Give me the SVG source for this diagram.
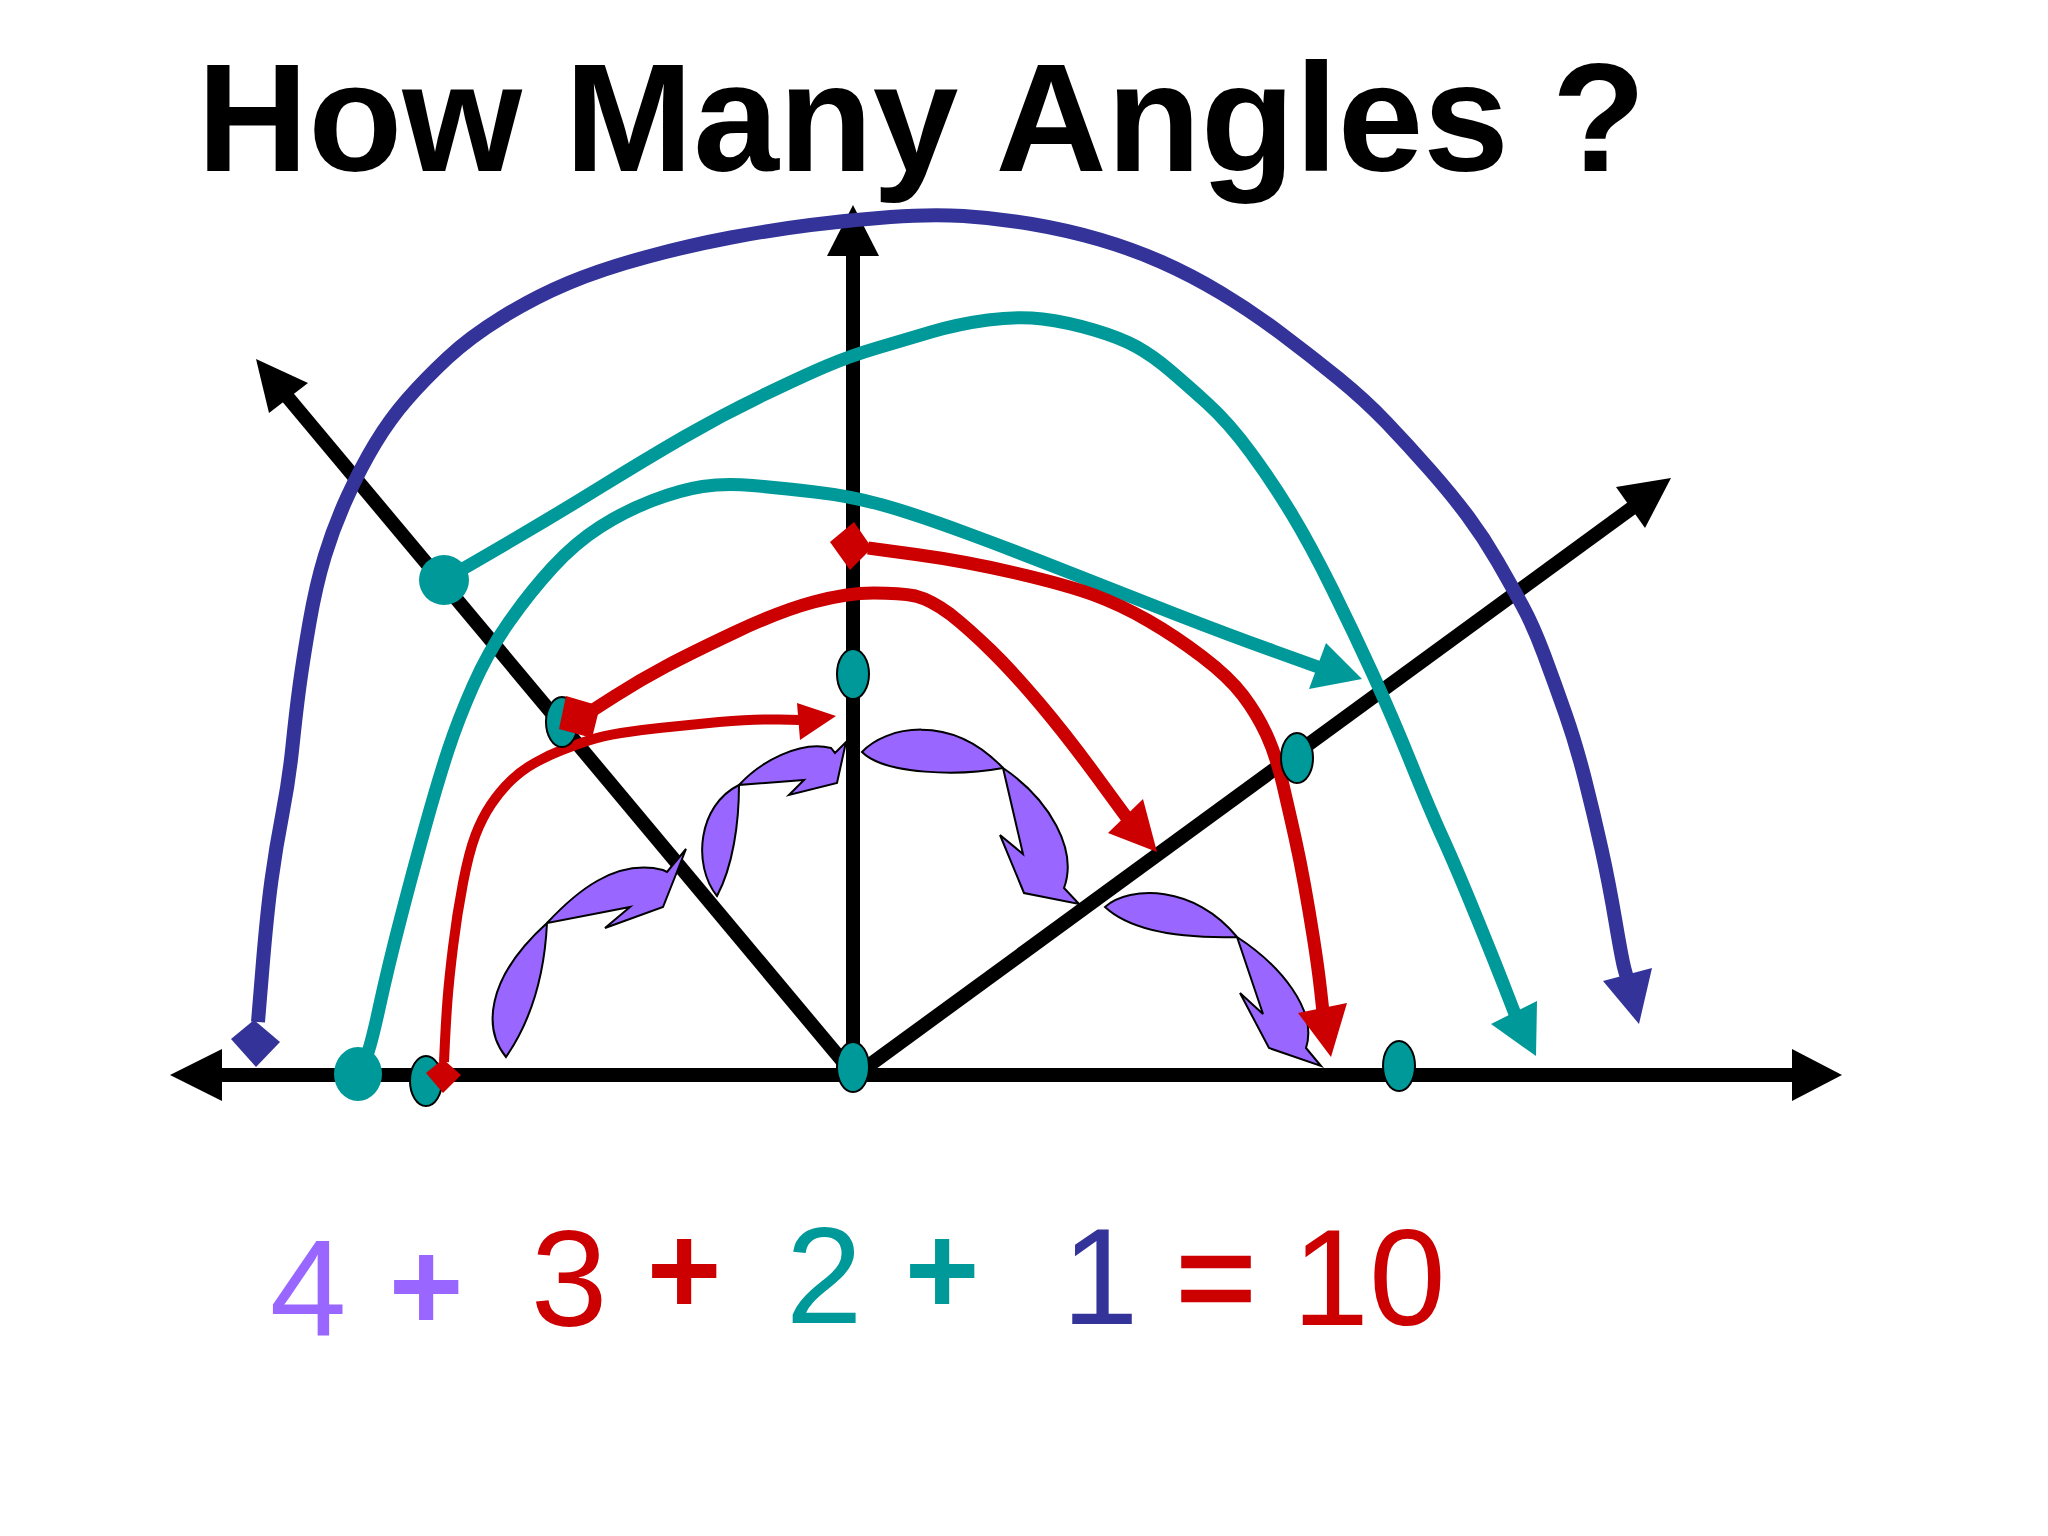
<svg xmlns="http://www.w3.org/2000/svg" width="2048" height="1536" viewBox="0 0 2048 1536">
<style>
.ax{stroke:#000;stroke-width:14;fill:none}
.ah{fill:#000}
.cv{fill:none;stroke-linejoin:round;stroke-linecap:butt}
.blue{stroke:#333399}
.teal{stroke:#009999}
.red{stroke:#CC0000}
.fblue{fill:#333399}
.fteal{fill:#009999}
.fred{fill:#CC0000}
.pt{fill:#009999;stroke:#000;stroke-width:2}
.pa{fill:#9966FF;stroke:#000;stroke-width:2;stroke-linejoin:miter}
.num{font-family:"Liberation Sans",Arial,sans-serif;font-size:138px;text-anchor:middle}
.op{font-weight:bold;font-size:128px}
</style>
<rect width="2048" height="1536" fill="#fff"/>
<text x="197" y="171" font-family="Liberation Sans, Arial, sans-serif" font-weight="bold" font-size="154">How Many Angles ?</text>

<g id="axes">
<line class="ax" x1="215" y1="1075" x2="1797" y2="1075"/>
<polygon class="ah" points="170,1075 222,1049 222,1101"/>
<polygon class="ah" points="1842,1075 1792,1049 1792,1101"/>
<line class="ax" x1="853" y1="1070" x2="853" y2="250"/>
<polygon class="ah" points="853,205 827,256 879,256"/>
<line class="ax" x1="850" y1="1070" x2="285" y2="394"/>
<polygon class="ah" points="256,359 269,413 308,383"/>
<line class="ax" x1="860" y1="1072" x2="1636" y2="505"/>
<polygon class="ah" points="1671,478 1616,487 1645,528"/>
</g>

<g id="angle-arrows">
<path class="pa" d="M506,1057 C484,1030 484,980 547,923 C575,893 615,858 663,870 L667,872 L686,849 L663,907 L605,928 L630,907 L547,923 C545,965 535,1015 506,1057 Z"/>
<path class="pa" d="M717,896 C692,865 698,805 739,785 C760,762 800,740 831,748 L835,753 L846,742 L837,783 L789,795 L804,780 L739,785 C739,823 733,866 717,896 Z"/>
<path class="pa" d="M862,752 C885,727 950,712 1003,768 C1050,800 1078,850 1064,888 L1079,904 L1024,893 L1000,835 L1023,854 L1003,768 C960,776 885,775 862,752 Z"/>
<path class="pa" d="M1105,907 C1130,885 1195,885 1237,937 C1280,965 1318,1010 1306,1048 L1321,1066 L1269,1048 L1240,993 L1263,1014 L1237,937 C1195,938 1135,935 1105,907 Z"/>
</g>

<g id="connectors">
<path class="cv blue" stroke-width="14" d="M258,1022 L262.5,967.5 Q267,913 271.5,880 Q276,847 282.5,813.5 Q289,780 292.5,746 Q296,712 299.5,686 Q303,660 309.5,622.5 Q316,585 325,555.5 Q334,526 347.5,496.5 Q361,467 375.5,443 Q390,419 407.5,399 Q425,379 447.5,358 Q470,337 502.5,317 Q535,297 568.5,283 Q602,269 646.5,257 Q691,245 731,237.5 Q771,230 810.5,225 Q850,220 890.5,217 Q931,214 963.5,216 Q996,218 1031.5,224 Q1067,230 1099.5,239.5 Q1132,249 1161.5,262 Q1191,275 1221,293 Q1251,311 1281,333.5 Q1311,356 1338,378 Q1365,400 1386.5,422.5 Q1408,445 1430,470 Q1452,495 1468,516.5 Q1484,538 1497.5,561.5 Q1511,585 1522,605 Q1533,625 1544,654.5 Q1555,684 1565.5,714 Q1576,744 1585,779.5 Q1594,815 1601.5,849 Q1609,883 1615.5,921.5 Q1622,960 1624.5,969 L1627,978"/>
<polygon class="fblue" points="1639,1024 1603,981 1652,968"/>

<path class="cv teal" stroke-width="13" d="M443,580 L455.5,573 Q468,566 512.5,540 Q557,514 601.5,486.5 Q646,459 684,437 Q722,415 762.5,395.5 Q803,376 826.5,366 Q850,356 877,348 Q904,340 931,332 Q958,324 988,320 Q1018,316 1042.5,319 Q1067,322 1094,330 Q1121,338 1137,347 Q1153,356 1169.5,370 Q1186,384 1207.5,403.5 Q1229,423 1251,453 Q1273,483 1292,514.5 Q1311,546 1332.5,589.5 Q1354,633 1373,674.5 Q1392,716 1411,763 Q1430,810 1443,838.5 Q1456,867 1475,913.5 Q1494,960 1504.5,987 L1515,1014"/>
<polygon class="fteal" points="1536,1056 1491,1024 1537,1001"/>

<path class="cv teal" stroke-width="13" d="M360,1070 L365,1060 Q370,1050 379,1008.5 Q388,967 401,917 Q414,867 426,824 Q438,781 448,750.5 Q458,720 473,686 Q488,652 509,622 Q530,592 552.5,567.5 Q575,543 600,527 Q625,511 652.5,500.5 Q680,490 702.5,486.5 Q725,483 752.5,485.5 Q780,488 815,492 Q850,496 882.5,505 Q915,514 969,534 Q1023,554 1072,573.5 Q1121,593 1175,614 Q1229,635 1273.5,651 L1318,667"/>
<polygon class="fteal" points="1362,679 1309,689 1326,643"/>

<path class="cv red" stroke-width="13" d="M868,548 L916,554.5 Q964,561 1015.5,573 Q1067,585 1094,595 Q1121,605 1148,620.5 Q1175,636 1202,656.5 Q1229,677 1243,695.5 Q1257,714 1266.5,734.5 Q1276,755 1283,785 Q1290,815 1295,837.5 Q1300,860 1304.5,885 Q1309,910 1313.5,938.5 Q1318,967 1320.5,989.5 L1323,1012"/>
<polygon class="fred" points="1331,1057 1298,1013 1347,1003"/>

<path class="cv red" stroke-width="13" d="M590,712 L615,696 Q640,680 665.5,666.5 Q691,653 735.5,632 Q780,611 813.5,602 Q847,593 873.5,593 Q900,593 915.5,596 Q931,600 950,614 Q969,629 991,650.5 Q1013,672 1040,704 Q1067,736 1097,777 L1127,818"/>
<polygon class="fred" points="1157,852 1108,833 1143,799"/>

<path class="cv red" stroke-width="10" d="M444,1062 L445,1041 Q446,1020 447.5,1000 Q449,980 453,947 Q457,914 463,883 Q469,852 475.5,835 Q482,818 491,804.5 Q500,791 511,780.5 Q522,770 535.5,762.5 Q549,755 562,750 Q575,745 588.5,740.5 Q602,736 621,733 Q640,730 659.5,728 Q679,726 719,722 Q758,719 779,719.5 L800,720"/>
<polygon class="fred" points="836,716 797,703 800,740"/>
</g>

<g id="points">
<ellipse class="pt" cx="853" cy="674" rx="16" ry="25"/>
<ellipse class="pt" cx="562" cy="722" rx="16" ry="25"/>
<ellipse class="pt" cx="1297" cy="758" rx="16" ry="25"/>
<ellipse class="pt" cx="853" cy="1067" rx="16" ry="25"/>
<ellipse class="pt" cx="1399" cy="1066" rx="16" ry="25"/>
<ellipse class="pt" cx="426" cy="1081" rx="16" ry="25"/>
<ellipse class="fteal" cx="444" cy="580" rx="25" ry="25"/>
<ellipse class="fteal" cx="358" cy="1074" rx="24" ry="27"/>
</g>

<g id="start-markers">
<polygon class="fblue" points="254,1020 280,1042 256,1067 231,1039"/>
<polygon class="fred" points="854,522 872,548 850,570 830,542"/>
<polygon class="fred" points="566,696 600,706 592,738 559,729"/>
<polygon class="fred" points="443,1059 461,1075 443,1093 426,1073"/>
</g>

<g id="equation">
<text class="num" x="308" y="1335" fill="#9966FF">4</text>
<text class="num op" x="426" y="1330" fill="#9966FF">+</text>
<text class="num" x="569" y="1326" fill="#CC0000">3</text>
<text class="num op" x="684" y="1314" fill="#CC0000">+</text>
<text class="num" x="824" y="1323" fill="#009999">2</text>
<text class="num op" x="942" y="1314" fill="#009999">+</text>
<text class="num" x="1100" y="1324" fill="#333399">1</text>
<text class="num" x="1216" y="1324" fill="#CC0000" stroke="#CC0000" stroke-width="2.5">=</text>
<text class="num" x="1369" y="1325" fill="#CC0000">10</text>
</g>
</svg>
